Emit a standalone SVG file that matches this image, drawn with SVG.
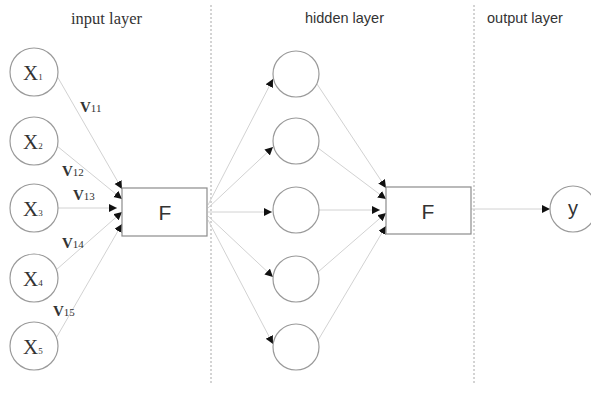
<svg xmlns="http://www.w3.org/2000/svg" width="591" height="410" viewBox="0 0 591 410">
  <style>
    .node { fill: #fff; stroke: #9a9a9a; stroke-width: 1.2; }
    .box { fill: #fff; stroke: #8c8c8c; stroke-width: 1.2; }
    .edge { stroke: #d2d2d2; stroke-width: 1; fill: none; marker-end: url(#tip); }
    .divider { stroke: #a8a8a8; stroke-width: 1; stroke-dasharray: 2 2; }
    .serif { font-family: "Liberation Serif", "Times New Roman", serif; fill: #333; }
    .sans { font-family: "Liberation Sans", Arial, sans-serif; fill: #333; }
    .xlab { font-size: 21px; }
    .sub { font-size: 9px; }
    .wlab { font-size: 15px; font-weight: bold; }
    .wsub { font-size: 11px; font-weight: normal; }
  </style>
  <defs>
    <marker id="tip" markerUnits="userSpaceOnUse" markerWidth="9" markerHeight="9" refX="8" refY="4" orient="auto">
      <path d="M0,0 L8,4 L0,8 Z" fill="#111"/>
    </marker>
  </defs>
  <rect width="591" height="410" fill="#fff"/>

  <!-- layer separators and titles -->
  <g id="layers">
    <line class="divider" x1="211" y1="5" x2="211" y2="384"/>
    <line class="divider" x1="474" y1="5" x2="474" y2="384"/>
    <text class="serif" x="71" y="24" font-size="16.5">input layer</text>
    <text class="sans" x="305" y="23" font-size="14.5">hidden layer</text>
    <text class="sans" x="487" y="23" font-size="14.5">output layer</text>
  </g>

  <!-- connections -->
  <g id="connectors">
    <line class="edge" x1="57" y1="76" x2="122" y2="189"/>
    <line class="edge" x1="57" y1="146" x2="122" y2="199"/>
    <line class="edge" x1="58" y1="208" x2="117" y2="208"/>
    <line class="edge" x1="56" y1="270" x2="122" y2="212"/>
    <line class="edge" x1="55" y1="340" x2="122" y2="224"/>

    <line class="edge" x1="208" y1="205" x2="273" y2="79"/>
    <line class="edge" x1="208" y1="208" x2="273" y2="147"/>
    <line class="edge" x1="208" y1="212" x2="272" y2="212"/>
    <line class="edge" x1="208" y1="216" x2="273" y2="277"/>
    <line class="edge" x1="208" y1="220" x2="273" y2="344"/>

    <line class="edge" x1="317" y1="84" x2="386" y2="188"/>
    <line class="edge" x1="318" y1="148" x2="386" y2="199"/>
    <line class="edge" x1="319" y1="210" x2="380" y2="210"/>
    <line class="edge" x1="318" y1="272" x2="386" y2="213"/>
    <line class="edge" x1="317" y1="342" x2="386" y2="226"/>

    <line class="edge" x1="471" y1="209" x2="550" y2="209"/>
  </g>

  <!-- weight labels -->
  <g id="weights" class="serif">
    <text class="wlab" x="80" y="112">V<tspan class="wsub">11</tspan></text>
    <text class="wlab" x="62" y="176">V<tspan class="wsub">12</tspan></text>
    <text class="wlab" x="73" y="200">V<tspan class="wsub">13</tspan></text>
    <text class="wlab" x="62" y="248">V<tspan class="wsub">14</tspan></text>
    <text class="wlab" x="53" y="316">V<tspan class="wsub">15</tspan></text>
  </g>

  <!-- input nodes -->
  <g id="x1"><circle class="node" cx="34" cy="72" r="24"/><text class="serif xlab" x="23" y="80">X<tspan class="sub">1</tspan></text></g>
  <g id="x2"><circle class="node" cx="34" cy="141" r="24"/><text class="serif xlab" x="23" y="149">X<tspan class="sub">2</tspan></text></g>
  <g id="x3"><circle class="node" cx="34" cy="208" r="24"/><text class="serif xlab" x="23" y="216">X<tspan class="sub">3</tspan></text></g>
  <g id="x4"><circle class="node" cx="34" cy="278" r="24"/><text class="serif xlab" x="23" y="286">X<tspan class="sub">4</tspan></text></g>
  <g id="x5"><circle class="node" cx="34" cy="346" r="24"/><text class="serif xlab" x="23" y="354">X<tspan class="sub">5</tspan></text></g>

  <!-- first transfer block -->
  <g id="f1">
    <rect class="box" x="122" y="188" width="85" height="48"/>
    <text class="sans" x="165" y="220" font-size="21" text-anchor="middle">F</text>
  </g>

  <!-- hidden nodes -->
  <g id="h1"><circle class="node" cx="296" cy="74" r="23"/></g>
  <g id="h2"><circle class="node" cx="296" cy="141" r="23"/></g>
  <g id="h3"><circle class="node" cx="296" cy="210" r="23"/></g>
  <g id="h4"><circle class="node" cx="296" cy="279" r="23"/></g>
  <g id="h5"><circle class="node" cx="296" cy="347" r="23"/></g>

  <!-- second transfer block -->
  <g id="f2">
    <rect class="box" x="386" y="187" width="85" height="47"/>
    <text class="sans" x="428" y="219" font-size="21" text-anchor="middle">F</text>
  </g>

  <!-- output node -->
  <g id="y">
    <circle class="node" cx="573" cy="209" r="23"/>
    <text class="sans" x="573" y="215" font-size="20" text-anchor="middle">y</text>
  </g>
</svg>
